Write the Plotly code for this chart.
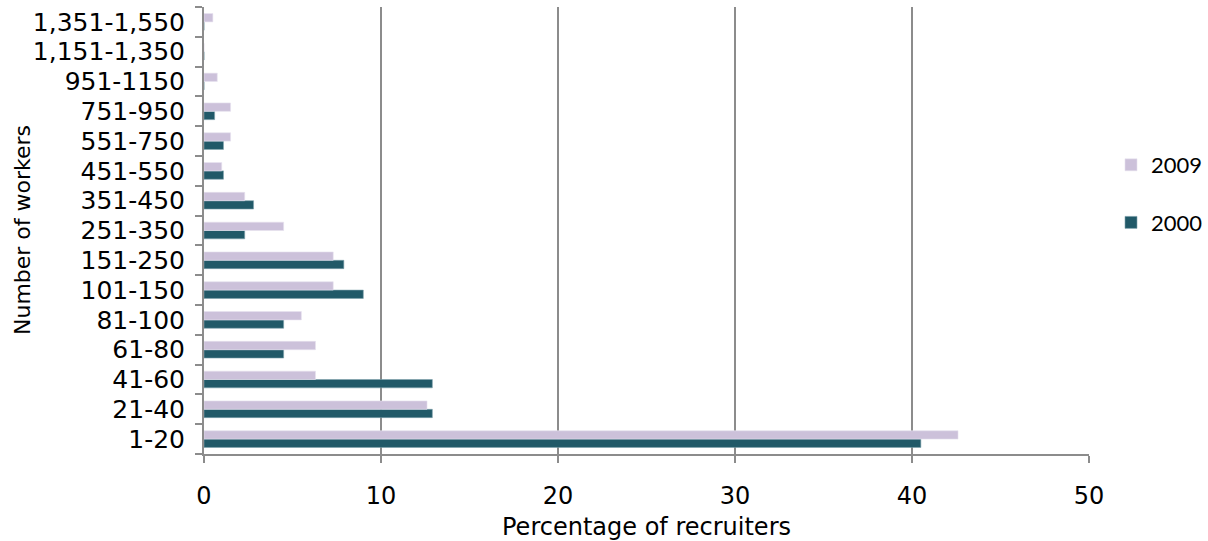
import plotly.graph_objects as go

# Workforce size bands (bottom to top)
categories = ["1-20", "21-40", "41-60", "61-80", "81-100", "101-150", "151-250",
              "251-350", "351-450", "451-550", "551-750", "751-950", "951-1150",
              "1,151-1,350", "1,351-1,550"]

# Percentage of recruiters in each band
pct_2000 = [40.5, 12.9, 12.9, 4.5, 4.5, 9.0, 7.9, 2.3, 2.8, 1.1, 1.1, 0.6, 0.0, 0.0, 0.0]
pct_2009 = [42.6, 12.6, 6.3, 6.3, 5.5, 7.3, 7.3, 4.5, 2.3, 1.0, 1.5, 1.5, 0.75, 0.0, 0.5]

x_ticks = [0, 10, 20, 30, 40, 50]

fig = go.Figure()
fig.add_trace(go.Bar(y=categories, x=pct_2000, name="2000", orientation="h",
                     marker=dict(color="#215968", line=dict(color="#7fa3ad", width=0.6)),
                     legendgroup="a", legendrank=2))
fig.add_trace(go.Bar(y=categories, x=pct_2009, name="2009", orientation="h",
                     marker=dict(color="#CCC1DA", line=dict(color="#e6e0ee", width=0.6)),
                     legendgroup="b", legendrank=1))

grid = "#8c8c8c"
fig.update_layout(
    width=1208, height=541,
    margin=dict(l=204, r=119, t=7, b=87, autoexpand=False),
    paper_bgcolor="white", plot_bgcolor="white",
    barmode="group", bargap=0.44, bargroupgap=0,
    font=dict(family="DejaVu Sans, sans-serif", color="black", size=24),
    legend=dict(xref="container", yref="container",
                x=1.0, y=1 - 144 / 541, xanchor="right", yanchor="top",
                traceorder="grouped", tracegroupgap=26,
                font=dict(family="Lato, sans-serif", size=22)),
    xaxis=dict(range=[0, 50], tickvals=x_ticks, showgrid=True, gridcolor=grid,
               gridwidth=2, zeroline=False, showline=True, linecolor=grid,
               linewidth=2, ticks="outside", ticklen=7, tickwidth=2, tickcolor=grid,
               ticklabelstandoff=12,
               title=dict(text="Percentage of recruiters", standoff=15,
                          font=dict(size=24))),
    yaxis=dict(type="category", categoryorder="array", categoryarray=categories,
               tickmode="linear", dtick=1,
               showline=True, linecolor=grid, linewidth=2, ticks="outside",
               tickson="boundaries", ticklen=7, tickwidth=2, tickcolor=grid,
               showgrid=False, ticklabelstandoff=12, tickfont=dict(size=25)),
    annotations=[dict(text="Number of workers", textangle=-90,
                      xref="paper", yref="paper", x=(22.5 - 204) / 885, y=0.5,
                      xanchor="center", yanchor="middle", showarrow=False,
                      font=dict(size=22))],
)

fig.write_html("out.html")
